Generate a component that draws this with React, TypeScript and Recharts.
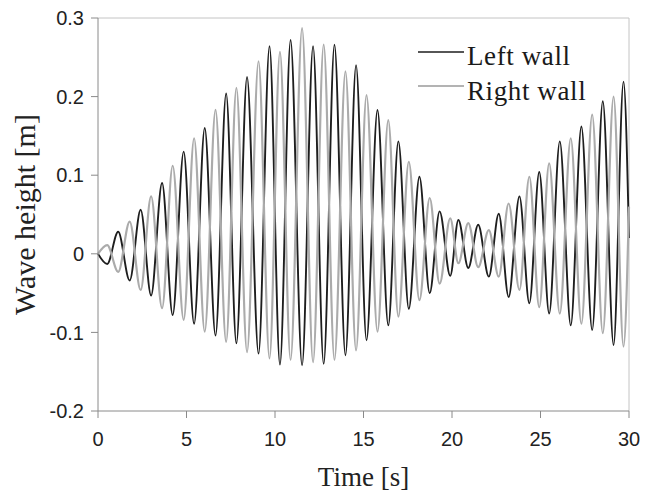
import React from 'react'
import { Label, Line, LineChart, ReferenceLine, XAxis, YAxis } from 'recharts'

// time of each crest / trough [s]
const times = [
  0, 0.52, 1.14, 1.79, 2.41, 3.0, 3.62, 4.22, 4.84, 5.43,
  6.03, 6.64, 7.24, 7.82, 8.42, 9.07, 9.69, 10.28, 10.88, 11.53,
  12.15, 12.75, 13.36, 13.98, 14.58, 15.17, 15.79, 16.4, 16.97, 17.56,
  18.16, 18.74, 19.3, 19.9, 20.36, 20.92, 21.48, 22.08, 22.64, 23.2,
  23.81, 24.37, 24.93, 25.49, 26.09, 26.71, 27.31, 27.92, 28.52, 29.13,
  29.69, 30,
]

// wave height [m]
const leftWall = [
  0, -0.013, 0.028, -0.034, 0.056, -0.053, 0.09, -0.078, 0.13, -0.089,
  0.16, -0.104, 0.204, -0.114, 0.225, -0.127, 0.264, -0.141, 0.272, -0.142,
  0.264, -0.14, 0.266, -0.129, 0.24, -0.11, 0.183, -0.091, 0.143, -0.07,
  0.098, -0.05, 0.054, -0.028, 0.043, -0.018, 0.037, -0.029, 0.051, -0.055,
  0.073, -0.063, 0.104, -0.076, 0.143, -0.091, 0.162, -0.097, 0.194, -0.116,
  0.219, 0.02,
]

const rightWall = [
  0, 0.011, -0.023, 0.041, -0.046, 0.073, -0.069, 0.112, -0.084, 0.147,
  -0.099, 0.183, -0.112, 0.211, -0.125, 0.245, -0.133, 0.257, -0.135, 0.287,
  -0.138, 0.266, -0.135, 0.232, -0.123, 0.202, -0.099, 0.17, -0.08, 0.117,
  -0.059, 0.071, -0.038, 0.045, -0.012, 0.039, -0.017, 0.03, -0.029, 0.064,
  -0.046, 0.098, -0.068, 0.115, -0.076, 0.147, -0.089, 0.177, -0.101, 0.2,
  -0.118, 0.06,
]

const xTicks = [0, 5, 10, 15, 20, 25, 30]
const yTicks = [-0.2, -0.1, 0, 0.1, 0.2, 0.3]

const data = times.map((t, i) => ({ t, left: leftWall[i], right: rightWall[i] }))

const axisColor = '#8a8a8a'
const tickStyle = { fontFamily: 'Liberation Sans, Arial, sans-serif', fontSize: 20, fill: '#222' }
const serif = 'Liberation Serif, Times New Roman, serif'

export default function App() {
  return (
    <div style={{ position: 'absolute', left: 0, top: 0, width: 647, height: 495, background: '#fff' }}>
      <LineChart width={647} height={495} data={data} margin={{ top: 18, right: 18, left: 0, bottom: 0 }}>
        <XAxis
          dataKey="t"
          type="number"
          domain={[0, 30]}
          ticks={xTicks}
          height={84}
          stroke={axisColor}
          tickSize={7}
          tickMargin={14}
          tick={tickStyle}
        >
          <Label
            value="Time [s]"
            position="insideBottom"
            offset={9}
            style={{ fontFamily: serif, fontSize: 27, fill: '#222' }}
          />
        </XAxis>
        <YAxis
          type="number"
          domain={[-0.2, 0.3]}
          ticks={yTicks}
          width={98}
          stroke={axisColor}
          tickSize={7}
          tickMargin={7}
          tick={tickStyle}
        >
          <Label
            value="Wave height [m]"
            angle={-90}
            position="insideLeft"
            offset={24}
            style={{ fontFamily: serif, fontSize: 30, fill: '#222', textAnchor: 'middle' }}
          />
        </YAxis>
        <ReferenceLine y={0.3} stroke="#c4c4c4" />
        <ReferenceLine x={30} stroke="#c4c4c4" />
        <Line type="monotone" dataKey="left" stroke="#1e1e1e" strokeWidth={1.9} dot={false} isAnimationActive={false} />
        <Line type="monotone" dataKey="right" stroke="#ababab" strokeWidth={2.2} dot={false} isAnimationActive={false} />
      </LineChart>
      <svg width={647} height={495} style={{ position: 'absolute', left: 0, top: 0, pointerEvents: 'none' }}>
        <line x1={418} y1={52} x2={464} y2={52} stroke="#1e1e1e" strokeWidth={1.6} />
        <text x={467} y={65} fontFamily={serif} fontSize={27} fill="#1a1a1a" letterSpacing={0.6}>Left wall</text>
        <line x1={418} y1={86} x2={464} y2={86} stroke="#b3b3b3" strokeWidth={2} />
        <text x={467} y={100} fontFamily={serif} fontSize={27} fill="#1a1a1a" letterSpacing={0.6}>Right wall</text>
      </svg>
    </div>
  )
}
